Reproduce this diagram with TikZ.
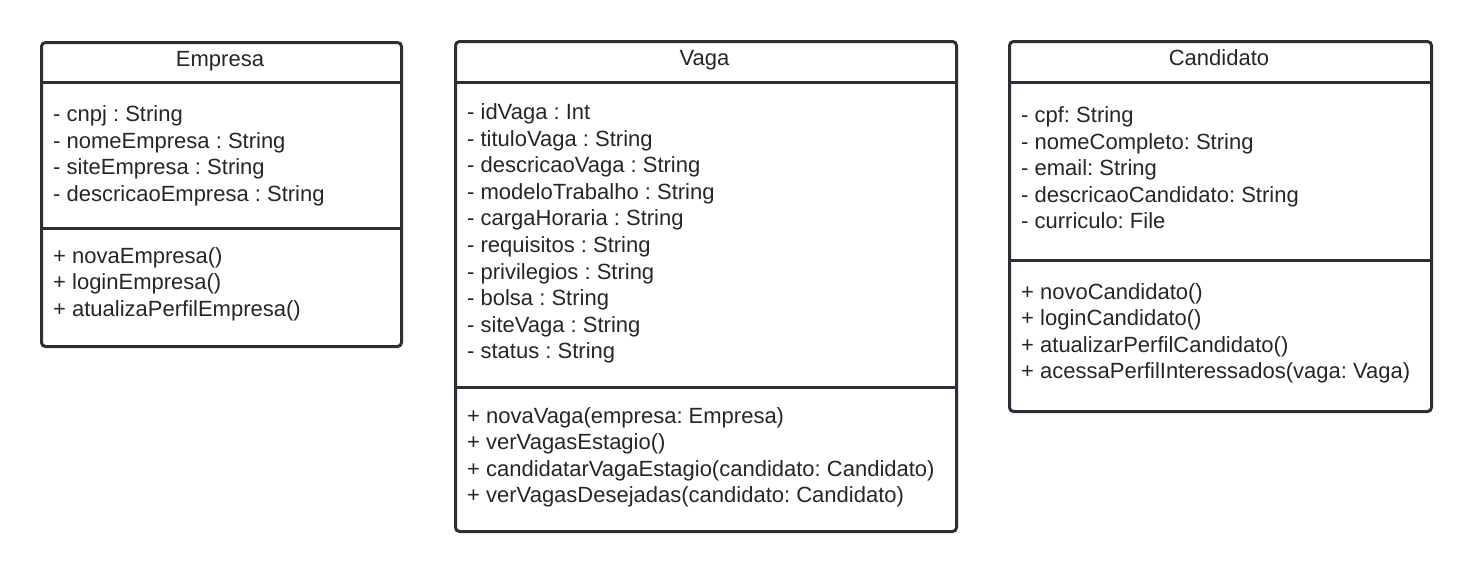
\documentclass[tikz,border=0pt]{standalone}
\usepackage{fontspec}
\setmainfont{Liberation Sans}
\frenchspacing
\usetikzlibrary{positioning}
\definecolor{umlline}{HTML}{2B2F36}
\definecolor{umltext}{HTML}{23262B}
\tikzset{
  classbox/.style = {draw=umlline, line width=3pt, rounded corners=4pt, inner sep=0pt, anchor=north west},
  % class name in the header
  classname/.style = {text=umltext, font=\fontsize{22}{26.4}\selectfont, anchor=base, inner sep=0pt},
  member/.style = {text=umltext, font=\fontsize{22}{26.4}\selectfont, anchor=base west, inner sep=0pt},
  sepline/.style = {draw=umlline, line width=3pt}
}

\begin{document}
\begin{tikzpicture}[x=1pt,y=-1pt]
    \useasboundingbox (0,0) rectangle (1470,571);
    % Empresa class:
    \node [classbox, minimum width=360pt, minimum height=304pt] (empresa) at (40,41) {};
    \node [classname] (empresa-name) at (220,66) {Empresa};
    \draw [sepline] ([yshift=-41pt]empresa.north west) -- ([yshift=-41pt]empresa.north east);
    \draw [sepline] ([yshift=-187pt]empresa.north west) -- ([yshift=-187pt]empresa.north east);
    \foreach \txt [count=\i from 0] in {- cnpj : String, - nomeEmpresa : String, - siteEmpresa : String, - descricaoEmpresa : String}
      \node [member] (empresa-a\i) at (53,{121.5+\i*26.6}) {\txt};
    \foreach \txt [count=\i from 0] in {+ novaEmpresa(), + loginEmpresa(), + atualizaPerfilEmpresa()}
      \node [member] (empresa-m\i) at (53,{263+\i*26.6}) {\txt};
    % Vaga class:
    \node [classbox, minimum width=501pt, minimum height=490pt] (vaga) at (454,40) {};
    \node [classname] (vaga-name) at (704.5,65) {Vaga};
    \draw [sepline] ([yshift=-42pt]vaga.north west) -- ([yshift=-42pt]vaga.north east);
    \draw [sepline] ([yshift=-347pt]vaga.north west) -- ([yshift=-347pt]vaga.north east);
    \foreach \txt [count=\i from 0] in {- idVaga : Int, - tituloVaga : String, - descricaoVaga : String, - modeloTrabalho : String, - cargaHoraria : String, - requisitos : String, - privilegios : String, - bolsa : String, - siteVaga : String, - status : String}
      \node [member] (vaga-a\i) at (467,{119.5+\i*26.6}) {\txt};
    \foreach \txt [count=\i from 0] in {+ novaVaga(empresa: Empresa), + verVagasEstagio(), + candidatarVagaEstagio(candidato: Candidato), + verVagasDesejadas(candidato: Candidato)}
      \node [member] (vaga-m\i) at (467,{423+\i*26.6}) {\txt};
    % Candidato class:
    \node [classbox, minimum width=422pt, minimum height=370pt] (candidato) at (1008,40) {};
    \node [classname] (candidato-name) at (1219,65) {Candidato};
    \draw [sepline] ([yshift=-42pt]candidato.north west) -- ([yshift=-42pt]candidato.north east);
    \draw [sepline] ([yshift=-220pt]candidato.north west) -- ([yshift=-220pt]candidato.north east);
    \foreach \txt [count=\i from 0] in {- cpf: String, - nomeCompleto: String, - email: String, - descricaoCandidato: String, - curriculo: File}
      \node [member] (candidato-a\i) at (1021,{122.5+\i*26.6}) {\txt};
    \foreach \txt [count=\i from 0] in {+ novoCandidato(), + loginCandidato(), + atualizarPerfilCandidato(), + acessaPerfilInteressados(vaga: Vaga)}
      \node [member] (candidato-m\i) at (1021,{299+\i*26.6}) {\txt};
\end{tikzpicture}
\end{document}
